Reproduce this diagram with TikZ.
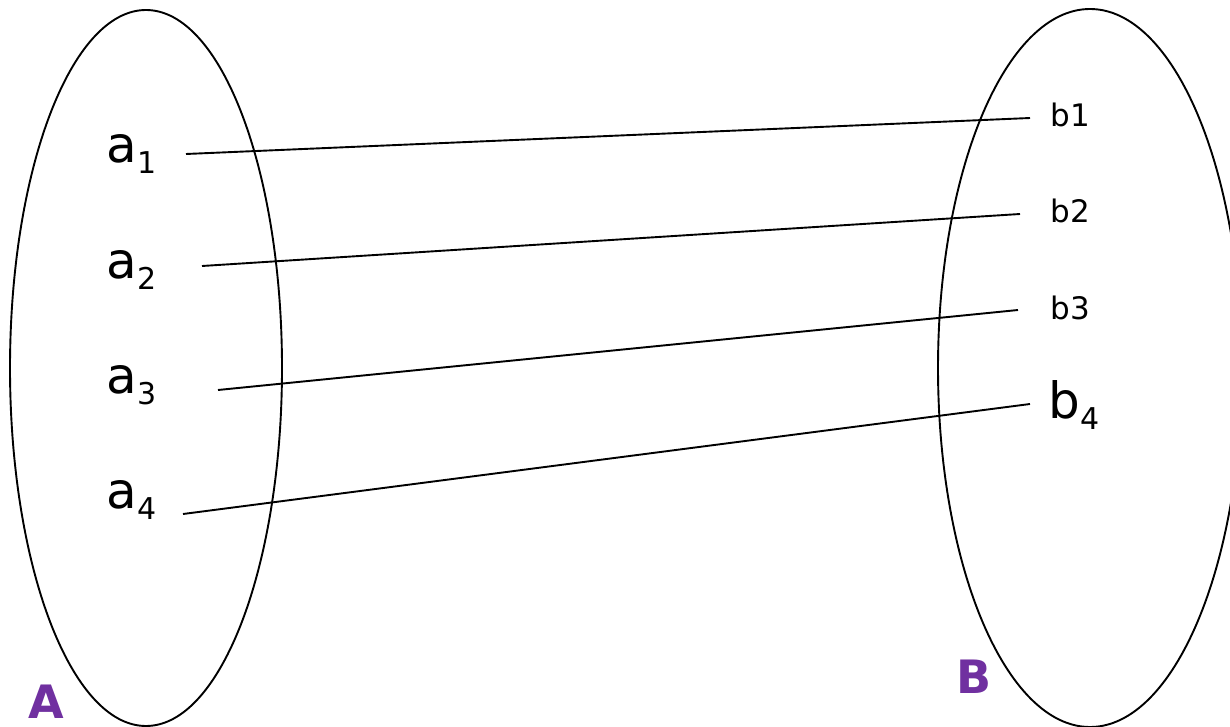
\documentclass[tikz,border=0pt]{standalone}
\usepackage{fontspec}
\setmainfont{DejaVu Sans}
\usepackage{tikz}
\usetikzlibrary{shapes.geometric}

\definecolor{setpurple}{RGB}{112,48,160}
\newcommand{\lowidx}[1]{\raisebox{-11pt}{\fontsize{30}{30}\selectfont #1}}

\begin{document}
\begin{tikzpicture}[x=1pt, y=-1pt, line width=1.9pt]
		\tikzstyle{set}=[draw,shape=ellipse,inner sep=0pt]
		\tikzstyle{elem}=[anchor=base west,inner sep=0pt,font=\fontsize{50}{60}\selectfont]
		\tikzstyle{small}=[anchor=base west,inner sep=0pt,font=\fontsize{31}{36}\selectfont]
		\tikzstyle{setname}=[anchor=base west,inner sep=0pt,text=setpurple,font=\fontsize{46}{54}\selectfont\bfseries]

		\useasboundingbox (0,0) rectangle (1230,727);

    % Sets
		\node[set, minimum width=272pt, minimum height=716pt](setA) at (146,368){};
		\node[set, minimum width=304pt, minimum height=718pt](setB) at (1090,368){};

    % Elements of A
		\node[elem](a1) at (106,163){a\lowidx{1}};
		\node[elem](a2) at (106,278){a\lowidx{2}};
		\node[elem](a3) at (106,393){a\lowidx{3}};
		\node[elem](a4) at (106,508){a\lowidx{4}};

    % Elements of B
		\node[small](b1) at (1050,127){b1};
		\node[small](b2) at (1050,223){b2};
		\node[small](b3) at (1050,319){b3};
		\node[elem](b4) at (1048,418){b\lowidx{4}};

    % Set names
		\node[setname](nameA) at (28,718){A};
		\node[setname](nameB) at (956,693){B};

    % Line ends
		\coordinate (s1) at (186,154);
		\coordinate (s2) at (202,266);
		\coordinate (s3) at (218,390);
		\coordinate (s4) at (183,514);
		\coordinate (t1) at (1030,118);
		\coordinate (t2) at (1020,214);
		\coordinate (t3) at (1018,310);
		\coordinate (t4) at (1030,404);

		\draw (s1) -- (t1);
		\draw (s2) -- (t2);
		\draw (s3) -- (t3);
		\draw (s4) -- (t4);
  \end{tikzpicture}
\end{document}
